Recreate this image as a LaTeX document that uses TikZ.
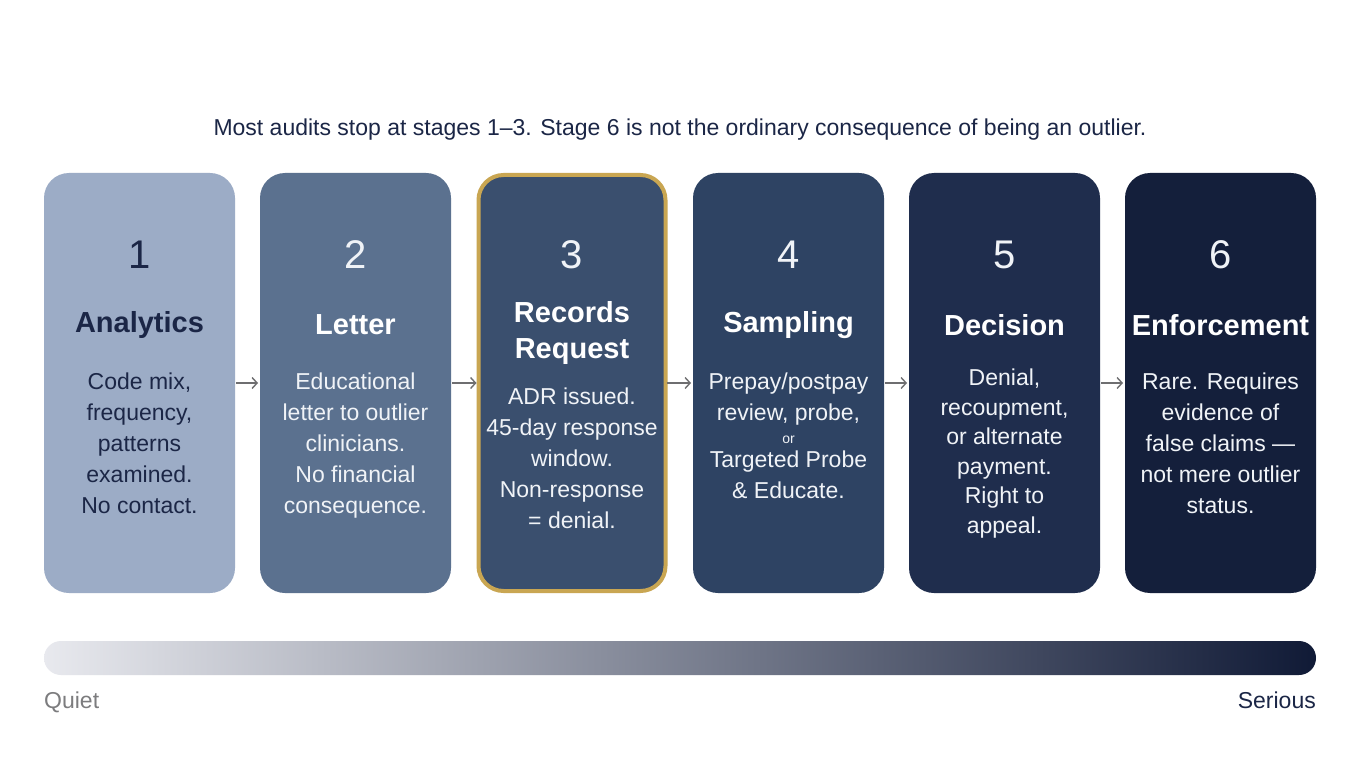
\documentclass[tikz,border=0pt]{standalone}
\usepackage{fontspec}
\setmainfont{Liberation Sans}
\usetikzlibrary{arrows.meta}

\definecolor{navy}{RGB}{27,38,70}
\definecolor{paleink}{RGB}{240,243,247}
\definecolor{arrowgray}{RGB}{110,110,112}
\definecolor{gold}{RGB}{201,166,82}
\definecolor{stageA}{RGB}{156,172,198}
\definecolor{stageB}{RGB}{91,113,143}
\definecolor{stageC}{RGB}{58,79,110}
\definecolor{stageD}{RGB}{46,67,99}
\definecolor{stageE}{RGB}{31,45,77}
\definecolor{stageF}{RGB}{20,31,59}
\definecolor{barlight}{RGB}{232,233,238}
\definecolor{bardark}{RGB}{16,26,54}

\tikzset{
  stage/.style={rounded corners=25pt, minimum width=191pt, minimum height=420pt, inner sep=0, outer sep=0},
  stagenum/.style={font=\fontsize{40}{40}\selectfont, inner sep=0, text=paleink},
  stagetitle/.style={font=\fontsize{29}{36}\selectfont\bfseries, align=center, inner sep=0, text=white},
  stagetext/.style={font=\fontsize{23}{31}\selectfont, align=center, inner sep=0, anchor=north, text=paleink},
  flow/.style={-{Straight Barb[length=5pt, width=11pt]}, line width=1.4pt, draw=arrowgray, shorten >=2pt, shorten <=1pt},
}

\begin{document}
\begin{tikzpicture}[x=1pt, y=-1pt]
        \useasboundingbox[fill=white] (0,0) rectangle (1360,759);

        \draw (680,130) node[font=\fontsize{23}{27}\selectfont, text=navy] (headline) {Most audits stop at stages 1--3. Stage 6 is not the ordinary consequence of being an outlier.};

        % the six stages
        \draw (139.5,383) node[stage, fill=stageA] (s1) {};
        \draw (355.5,383) node[stage, fill=stageB] (s2) {};
        \draw (572,383) node[stage, fill=stageC, draw=gold, line width=4pt, minimum width=187pt, minimum height=416pt] (s3) {};
        \draw (788.5,383) node[stage, fill=stageD] (s4) {};
        \draw (1004.5,383) node[stage, fill=stageE] (s5) {};
        \draw (1220.5,383) node[stage, fill=stageF] (s6) {};

        \draw (s1.north) ++(0,82) node[stagenum, text=navy] (n1) {1};
        \draw (s2.north) ++(0,82) node[stagenum] (n2) {2};
        \draw (s3.north) ++(0,80) node[stagenum] (n3) {3};
        \draw (s4.north) ++(0,82) node[stagenum] (n4) {4};
        \draw (s5.north) ++(0,82) node[stagenum] (n5) {5};
        \draw (s6.north) ++(0,82) node[stagenum] (n6) {6};

        \draw (s1.north) ++(0,152) node[stagetitle, text=navy] (t1) {Analytics};
        \draw (s2.north) ++(0,152) node[stagetitle] (t2) {Letter};
        \draw (s3.north) ++(0,158) node[stagetitle] (t3) {Records\\Request};
        \draw (s4.north) ++(0,152) node[stagetitle] (t4) {Sampling};
        \draw (s5.north) ++(0,152) node[stagetitle] (t5) {Decision};
        \draw (s6.north) ++(0,152) node[stagetitle] (t6) {Enforcement};

        \draw (s1.north) ++(0,200) node[stagetext, text=navy] (d1) {Code mix,\\frequency,\\patterns\\examined.\\No contact.};
        \draw (s2.north) ++(0,200) node[stagetext] (d2) {Educational\\letter to outlier\\clinicians.\\No financial\\consequence.};
        \draw (s3.north) ++(0,213) node[stagetext] (d3) {ADR issued.\\45-day response\\window.\\Non-response\\= denial.};
        \draw (s4.north) ++(0,200) node[stagetext] (d4) {Prepay/postpay\\review, probe,\\[-8pt]{\fontsize{14}{14}\selectfont or}\\[-7pt]Targeted Probe\\\& Educate.};
        \draw (s5.north) ++(0,196) node[stagetext, font=\fontsize{23}{29.5}\selectfont] (d5) {Denial,\\recoupment,\\or alternate\\payment.\\Right to\\appeal.};
        \draw (s6.north) ++(0,200) node[stagetext] (d6) {Rare. Requires\\evidence of\\false claims ---\\not mere outlier\\status.};

        \draw[flow] (s1.east) -- (s2.west);
        \draw[flow] (s2.east) -- (s3.west);
        \draw[flow] (s3.east) -- (s4.west);
        \draw[flow] (s4.east) -- (s5.west);
        \draw[flow] (s5.east) -- (s6.west);

        % severity scale
        \draw (680,658) node[left color=barlight, right color=bardark, rounded corners=17pt, minimum width=1272pt, minimum height=34pt, inner sep=0, outer sep=0] (bar) {};
        \draw (bar.south west) ++(0,33) node[anchor=base west, inner sep=0, font=\fontsize{23}{28}\selectfont, text=arrowgray!90] (quiet) {Quiet};
        \draw (bar.south east) ++(0,33) node[anchor=base east, inner sep=0, font=\fontsize{23}{28}\selectfont, text=navy] (serious) {Serious};
      \end{tikzpicture}
\end{document}
